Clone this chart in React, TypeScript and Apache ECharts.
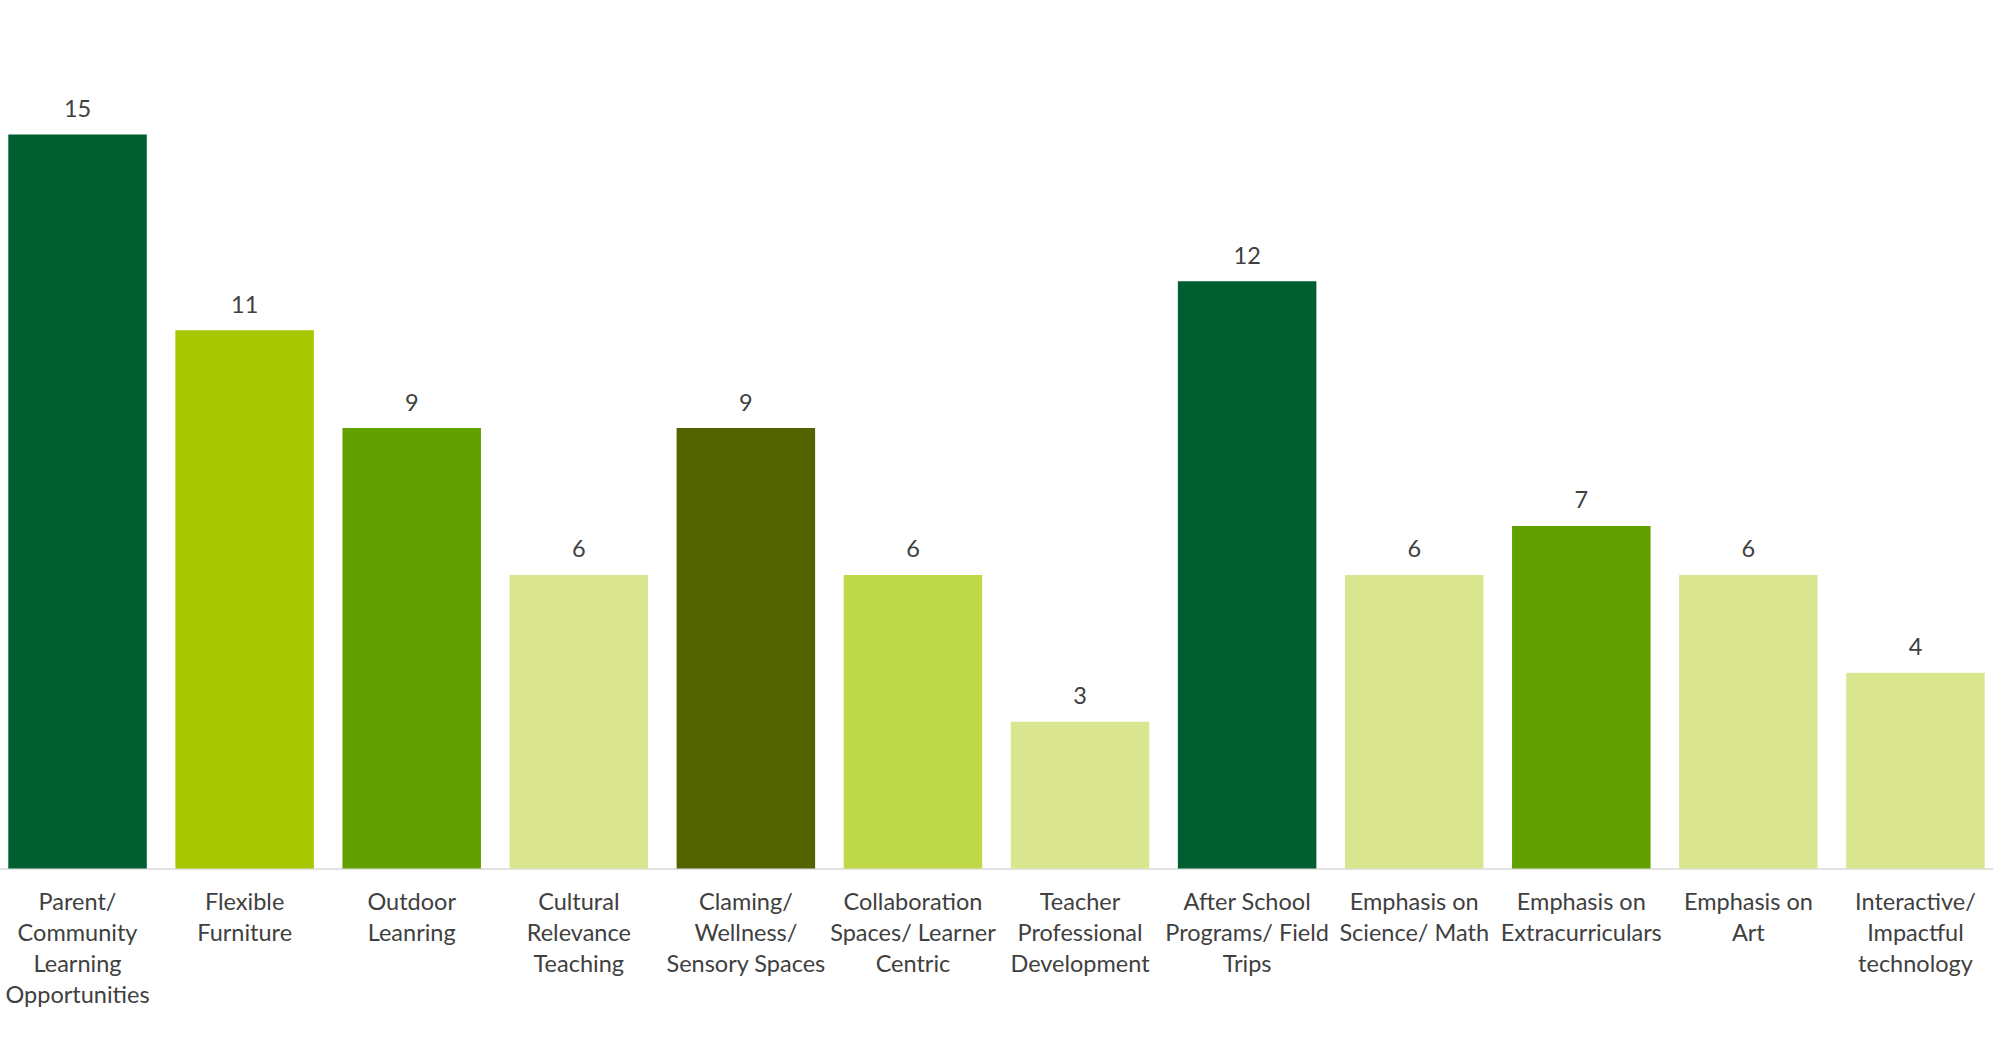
import React, { useEffect, useRef } from "react";
import * as echarts from "echarts";

const categories: string[] = [
  "Parent/\nCommunity\nLearning\nOpportunities",
  "Flexible\nFurniture",
  "Outdoor\nLeanring",
  "Cultural\nRelevance\nTeaching",
  "Claming/\nWellness/\nSensory Spaces",
  "Collaboration\nSpaces/ Learner\nCentric",
  "Teacher\nProfessional\nDevelopment",
  "After School\nPrograms/ Field\nTrips",
  "Emphasis on\nScience/ Math",
  "Emphasis on\nExtracurriculars",
  "Emphasis on\nArt",
  "Interactive/\nImpactful\ntechnology",
];

const counts: number[] = [15, 11, 9, 6, 9, 6, 3, 12, 6, 7, 6, 4];

const barColors: string[] = [
  "#005F31",
  "#A7C700",
  "#62A000",
  "#DAE68F",
  "#526300",
  "#BFD847",
  "#DAE68F",
  "#005F31",
  "#DAE68F",
  "#62A000",
  "#DAE68F",
  "#DAE68F",
];

const TEXT = "#404040";
const FONT = "Lato, 'Open Sans', sans-serif";

export default function App() {
  const ref = useRef<HTMLDivElement>(null);

  useEffect(() => {
    if (!ref.current) return;
    const chart = echarts.init(ref.current, undefined, { renderer: "svg" });
    chart.setOption({
      animation: false,
      backgroundColor: "#ffffff",
      grid: { left: 0, right: 0, top: 85.6, bottom: 176.5, containLabel: false },
      xAxis: {
        type: "category",
        data: categories,
        axisLine: { show: true, lineStyle: { color: "#D9D9D9", width: 1.5 } },
        axisTick: { show: false },
        axisLabel: {
          interval: 0,
          color: TEXT,
          fontFamily: FONT,
          fontSize: 23.5,
          lineHeight: 31.2,
          margin: 16.5,
        },
      },
      yAxis: {
        type: "value",
        min: 0,
        max: 16,
        show: false,
        splitLine: { show: false },
      },
      series: [
        {
          type: "bar",
          barCategoryGap: "17.1%",
          data: counts.map((v, i) => ({ value: v, itemStyle: { color: barColors[i] } })),
          label: {
            show: true,
            position: "top",
            distance: 11.5,
            color: TEXT,
            fontFamily: FONT,
            fontSize: 23.5,
            lineHeight: 30,
          },
        },
      ],
    });
    return () => chart.dispose();
  }, []);

  return (
    <div
      ref={ref}
      style={{ position: "fixed", left: -6, top: 0, width: 2005, height: 1045, background: "#fff" }}
    />
  );
}
